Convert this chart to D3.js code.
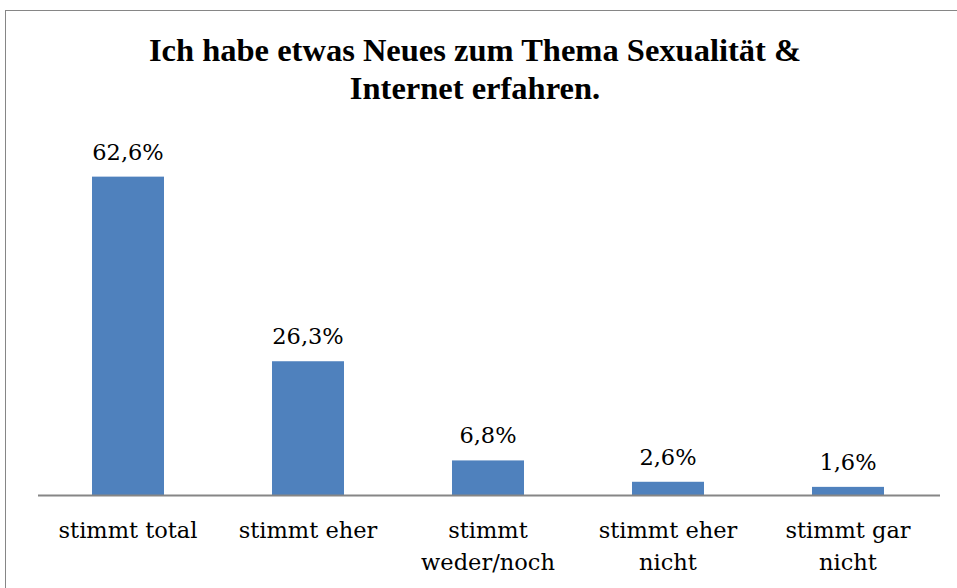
<!DOCTYPE html>
<html><head><meta charset="utf-8">
<script src="https://cdn.jsdelivr.net/npm/d3@7"></script>
<style>body{margin:0;background:#fff}svg{display:block}</style>
</head><body>
<script>
const categories = [["stimmt total"], ["stimmt eher"], ["stimmt", "weder/noch"], ["stimmt eher", "nicht"], ["stimmt gar", "nicht"]];
const values = [62.6, 26.3, 6.8, 2.6, 1.6];
const valueLabels = ["62,6%", "26,3%", "6,8%", "2,6%", "1,6%"];
const titleLines = ["Ich habe etwas Neues zum Thema Sexualität &", "Internet erfahren."];

const W = 957, H = 588;
const svg = d3.select("body").append("svg").attr("width", W).attr("height", H);
svg.append("rect").attr("x", 5.5).attr("y", 10.5).attr("width", 960).attr("height", 600)
  .attr("fill", "#fff").attr("stroke", "#868686").attr("stroke-width", 1);

const x = d3.scaleBand().domain(d3.range(values.length)).range([38, 938]).paddingInner(0.6).paddingOuter(0.3);
const y = d3.scaleLinear().domain([0, 70]).range([495, 139]);
const font = "'DejaVu Serif', serif";
const tfont = "'Liberation Serif', serif";

svg.append("g").selectAll("rect").data(values).join("rect")
  .attr("x", (d, i) => x(i)).attr("y", d => y(d))
  .attr("width", x.bandwidth()).attr("height", d => y(0) - y(d))
  .attr("fill", "#4F81BD");

svg.append("line").attr("x1", 38).attr("x2", 940).attr("y1", 495.5).attr("y2", 495.5)
  .attr("stroke", "#868686").attr("stroke-width", 2);

svg.append("g").selectAll("text").data(values).join("text")
  .attr("x", (d, i) => x(i) + x.bandwidth() / 2).attr("y", d => y(d) - 17)
  .attr("text-anchor", "middle").attr("font-family", font).attr("font-size", 22.5)
  .text((d, i) => valueLabels[i]);

const cat = svg.append("g").selectAll("text").data(categories).join("text")
  .attr("x", (d, i) => x(i) + x.bandwidth() / 2).attr("y", 538)
  .attr("text-anchor", "middle").attr("font-family", font).attr("font-size", 22.5);
cat.selectAll("tspan").data(d => d).join("tspan")
  .attr("x", function () { return this.parentNode.getAttribute("x"); })
  .attr("dy", (d, j) => j === 0 ? 0 : 32).text(d => d);

svg.append("g").selectAll("text").data(titleLines).join("text")
  .attr("x", 475).attr("y", (d, i) => 61 + i * 38)
  .attr("text-anchor", "middle").attr("font-family", tfont).attr("font-weight", "bold").attr("font-size", 32.5)
  .text(d => d);
</script>
</body></html>
